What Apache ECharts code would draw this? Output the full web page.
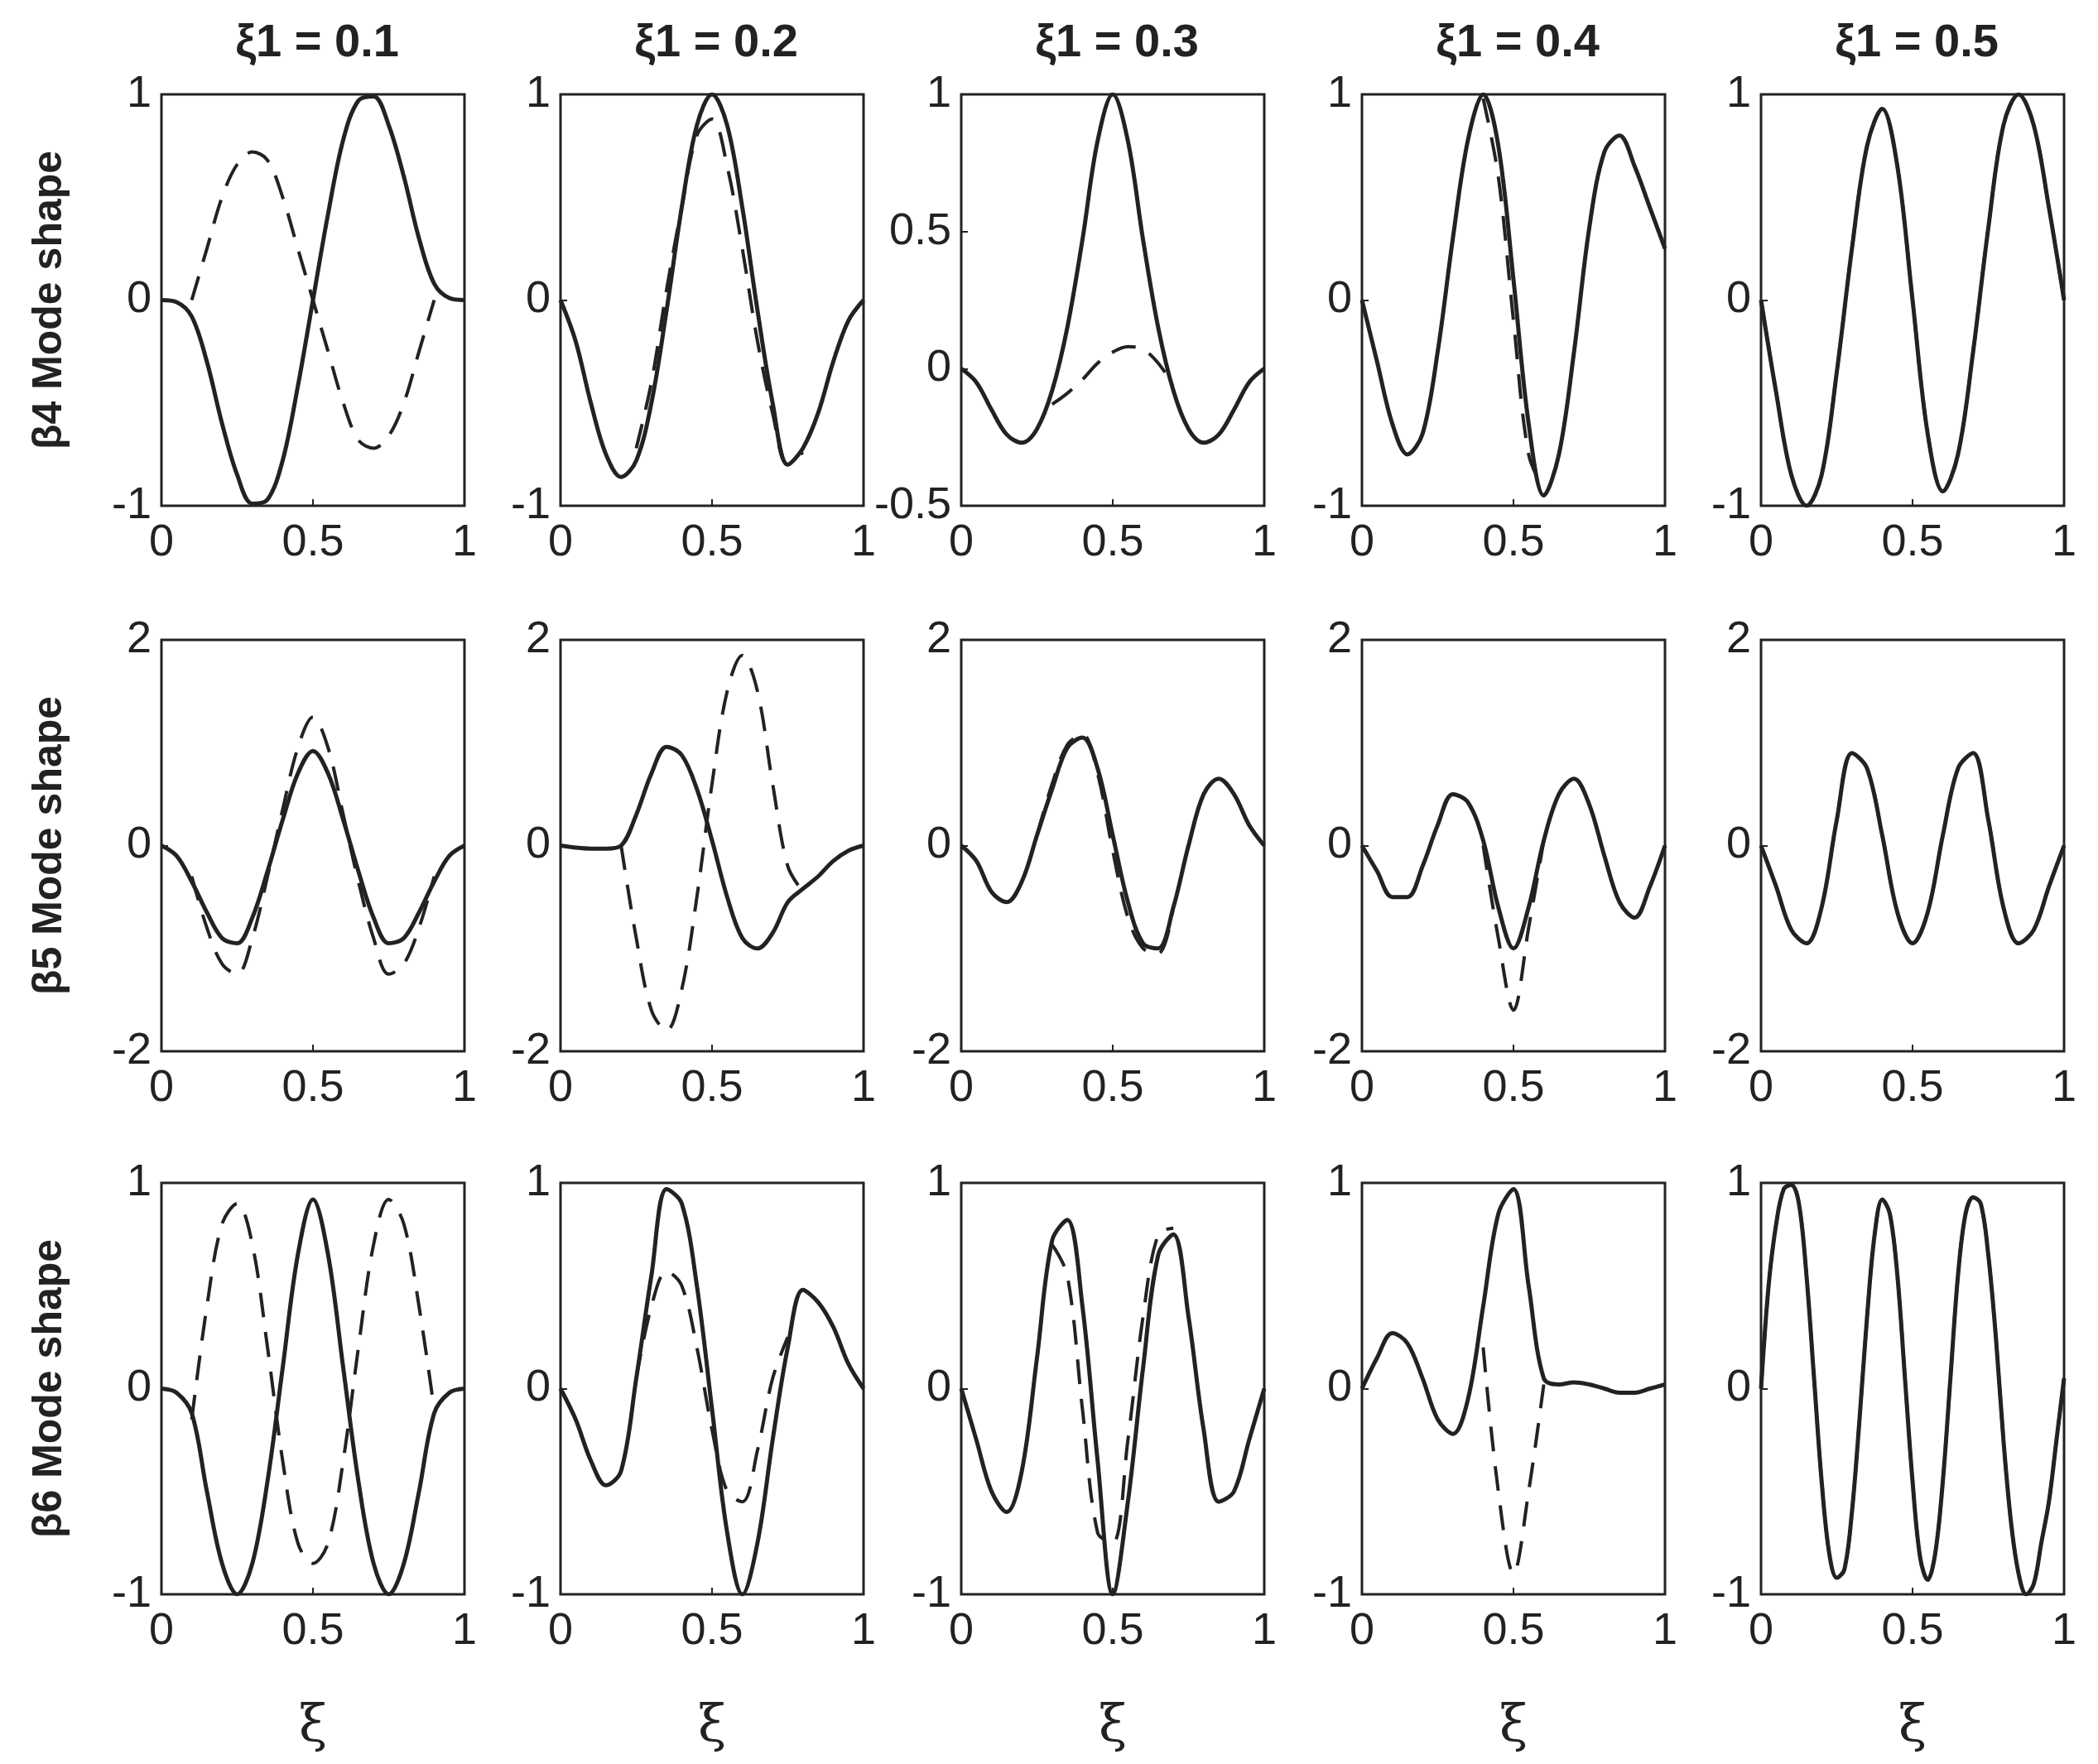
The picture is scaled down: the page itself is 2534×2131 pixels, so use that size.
<!DOCTYPE html>
<html><head><meta charset="utf-8">
<script src="https://cdn.jsdelivr.net/npm/echarts@6/dist/echarts.min.js"></script>
<style>html,body{margin:0;background:#fff}#mybox{width:2534px;height:2131px}</style>
</head><body><div id="mybox"></div>
<script>
// x positions (ξ)
var xs21 = [0,0.05,0.1,0.15,0.2,0.25,0.3,0.35,0.4,0.45,0.5,0.55,0.6,0.65,0.7,0.75,0.8,0.85,0.9,0.95,1];
var xs41 = [0,0.025,0.05,0.075,0.1,0.125,0.15,0.175,0.2,0.225,0.25,0.275,0.3,0.325,0.35,0.375,0.4,0.425,0.45,0.475,0.5,0.525,0.55,0.575,0.6,0.625,0.65,0.675,0.7,0.725,0.75,0.775,0.8,0.825,0.85,0.875,0.9,0.925,0.95,0.975,1];
var _ = null;

var titles = ['ξ1 = 0.1','ξ1 = 0.2','ξ1 = 0.3','ξ1 = 0.4','ξ1 = 0.5'];
var rowLabels = ['β4 Mode shape','β5 Mode shape','β6 Mode shape'];
var yRanges = [[-1,1,1],[-1,1,1],[-0.5,1,0.5],[-1,1,1],[-1,1,1],
               [-2,2,2],[-2,2,2],[-2,2,2],[-2,2,2],[-2,2,2],
               [-1,1,1],[-1,1,1],[-1,1,1],[-1,1,1],[-1,1,1]];

// row 1 (β4)
var s11 = [0,-0.01,-0.08,-0.3,-0.6,-0.85,-0.99,-0.97,-0.78,-0.42,0,0.42,0.78,0.97,0.99,0.85,0.6,0.3,0.08,0.01,0];
var d11 = [_,_,0,0.25,0.5,0.66,0.72,0.68,0.5,0.25,0,-0.25,-0.5,-0.68,-0.72,-0.66,-0.5,-0.25,0,_,_];
var s12 = [0,-0.2,-0.5,-0.75,-0.86,-0.78,-0.5,-0.05,0.45,0.85,1,0.85,0.45,-0.05,-0.5,-0.8,-0.72,-0.55,-0.3,-0.1,0];
var d12 = [_,_,_,_,_,-0.72,-0.4,0.05,0.45,0.8,0.88,0.65,0.25,-0.2,-0.55,-0.8,-0.74,_,_,_,_];
var s13 = [0,-0.05,-0.15,-0.24,-0.27,-0.22,-0.08,0.15,0.47,0.83,1,0.83,0.47,0.15,-0.08,-0.22,-0.27,-0.24,-0.15,-0.05,0];
var d13 = [_,_,_,_,_,_,-0.13,-0.09,-0.04,0.02,0.06,0.08,0.07,0.02,-0.06,_,_,_,_,_,_];
var s14 = [0,-0.3,-0.6,-0.75,-0.65,-0.25,0.3,0.78,1,0.75,0.1,-0.6,-0.95,-0.75,-0.25,0.35,0.72,0.8,0.65,0.45,0.25];
var d14 = [_,_,_,_,_,_,_,_,0.98,0.6,-0.1,-0.75,-0.92,_,_,_,_,_,_,_,_];
var s15 = [0,-0.45,-0.85,-1,-0.85,-0.35,0.25,0.75,0.93,0.65,0,-0.65,-0.93,-0.75,-0.25,0.35,0.85,1,0.85,0.45,0];
var d15 = [0,-0.45,-0.85,-1,-0.85,-0.35,0.25,0.75,0.93,0.65,0,-0.65,-0.93,-0.75,-0.25,0.35,0.85,1,0.85,0.45,0];

// row 2 (β5)
var s21 = [0,-0.1,-0.35,-0.65,-0.9,-0.95,-0.7,-0.25,0.25,0.7,0.92,0.7,0.25,-0.25,-0.7,-0.95,-0.9,-0.65,-0.35,-0.1,0];
var d21 = [_,_,-0.3,-0.8,-1.15,-1.25,-0.9,-0.3,0.35,0.95,1.25,0.95,0.3,-0.35,-0.9,-1.25,-1.15,-0.8,-0.3,_,_];
var s22 = [0,-0.02,-0.03,-0.03,0,0.3,0.7,0.96,0.88,0.55,0.05,-0.5,-0.9,-1,-0.85,-0.55,-0.42,-0.3,-0.15,-0.05,0];
var d22 = [_,_,_,_,0,-0.9,-1.6,-1.8,-1.4,-0.5,0.6,1.5,1.85,1.5,0.6,-0.2,-0.45,_,_,_,_];
var s23 = [0,-0.15,-0.45,-0.55,-0.35,0.1,0.55,0.95,1.05,0.75,0.1,-0.55,-0.95,-1,-0.6,0,0.5,0.65,0.5,0.2,0];
var d23 = [_,_,_,_,_,0.1,0.6,0.98,1.08,0.7,-0.05,-0.7,-1,-1.05,-0.6,_,_,_,_,_,_];
var s24 = [0,-0.25,-0.5,-0.5,-0.2,0.2,0.5,0.42,0.05,-0.6,-1,-0.6,0.05,0.5,0.65,0.4,-0.1,-0.55,-0.7,-0.4,0];
var d24 = [_,_,_,_,_,_,_,_,0,-0.9,-1.6,-0.8,0.05,_,_,_,_,_,_,_,_];
var s25 = [0,-0.4,-0.82,-0.95,-0.6,0.25,0.9,0.75,0.1,-0.65,-0.95,-0.65,0.1,0.75,0.9,0.25,-0.6,-0.95,-0.82,-0.4,0];
var d25 = s25.slice();

// row 3 (β6)
var s31 = [0,-0.02,-0.12,-0.5,-0.85,-1,-0.85,-0.45,0.1,0.65,0.92,0.65,0.1,-0.45,-0.85,-1,-0.85,-0.5,-0.12,-0.02,0];
var d31 = [_,_,-0.15,0.4,0.8,0.9,0.7,0.2,-0.35,-0.75,-0.85,-0.75,-0.35,0.2,0.7,0.92,0.8,0.4,-0.1,_,_];
var s32 = [0,-0.15,-0.35,-0.47,-0.4,0.05,0.55,0.97,0.9,0.5,-0.1,-0.7,-1,-0.75,-0.25,0.2,0.48,0.42,0.3,0.12,0];
var d32 = [_,_,_,_,_,0.05,0.4,0.57,0.5,0.2,-0.2,-0.5,-0.55,-0.3,0.05,0.25,_,_,_,_,_];
var s33 = [0,-0.25,-0.5,-0.6,-0.4,0.15,0.72,0.82,0.4,-0.35,-1,-0.55,0.1,0.65,0.75,0.35,-0.2,-0.55,-0.5,-0.25,0];
var d33 = [_,_,_,_,_,_,0.7,0.55,-0.1,-0.7,-0.75,-0.25,0.35,0.75,0.78,_,_,_,_,_,_];
var s34 = [0,0.15,0.27,0.22,0.05,-0.15,-0.22,-0.05,0.4,0.85,0.97,0.5,0.05,0.02,0.03,0.02,0,-0.02,-0.02,0,0.02];
var d34 = [_,_,_,_,_,_,_,_,0.2,-0.5,-0.9,-0.5,0.02,_,_,_,_,_,_,_,_];
var s35 = [0,0.5,0.8,0.97,0.99,0.9,0.55,0.05,-0.45,-0.8,-0.92,-0.88,-0.6,-0.15,0.35,0.75,0.92,0.85,0.55,0.05,-0.45,-0.82,-0.93,-0.8,-0.45,0.05,0.55,0.85,0.93,0.9,0.65,0.25,-0.25,-0.65,-0.9,-1,-0.95,-0.75,-0.55,-0.25,0.05];
var d35 = s35.slice();

var panels = [
  [xs21,s11,d11],[xs21,s12,d12],[xs21,s13,d13],[xs21,s14,d14],[xs21,s15,d15],
  [xs21,s21,d21],[xs21,s22,d22],[xs21,s23,d23],[xs21,s24,d24],[xs21,s25,d25],
  [xs21,s31,d31],[xs21,s32,d32],[xs21,s33,d33],[xs21,s34,d34],[xs41,s35,d35]
];

var lefts = [195,677,1161,1645,2127];
var tops = [114,773,1429];
var W = 366, H = 497;
var font = 'Liberation Sans, Arial, sans-serif';

function pairs(xs, ys){ return xs.map(function(x,i){ return [x, ys[i]]; }); }

var grids=[], xAxes=[], yAxes=[], series=[], titleArr=[];
for (var k=0;k<15;k++){
  var r=Math.floor(k/5), c=k%5, yr=yRanges[k];
  grids.push({left:lefts[c], top:tops[r], width:W, height:H, show:true, borderColor:'#222', borderWidth:3, backgroundColor:'#fff'});
  xAxes.push({type:'value', gridIndex:k, min:0, max:1, interval:0.5,
    axisLine:{show:false, onZero:false}, splitLine:{show:false},
    axisTick:{inside:true, length:8, lineStyle:{color:'#222',width:2}},
    axisLabel:{color:'#222', fontSize:54, fontFamily:font, margin:18, formatter:function(v){return String(v);}},
    name: r==2 ? 'ξ' : '', nameLocation:'middle', nameGap:130,
    nameTextStyle:{fontSize:62, color:'#222', fontFamily:'DejaVu Serif, serif'}});
  yAxes.push({type:'value', gridIndex:k, min:yr[0], max:yr[1], interval:yr[2],
    axisLine:{show:false, onZero:false}, splitLine:{show:false},
    axisTick:{inside:true, length:8, lineStyle:{color:'#222',width:2}},
    axisLabel:{color:'#222', fontSize:54, fontFamily:font, margin:12, formatter:function(v){return String(v);}},
    name: c==0 ? rowLabels[r] : '', nameLocation:'middle', nameGap:110, nameRotate:90,
    nameTextStyle:{fontSize:50, fontWeight:'bold', color:'#222', fontFamily:font}});
  var p=panels[k];
  series.push({type:'line', xAxisIndex:k, yAxisIndex:k, data:pairs(p[0],p[2]), smooth:0.35, showSymbol:false, connectNulls:false,
    lineStyle:{color:'#222', width:4, type:[30,18]}, z:2});
  series.push({type:'line', xAxisIndex:k, yAxisIndex:k, data:pairs(p[0],p[1]), smooth:0.35, showSymbol:false,
    lineStyle:{color:'#222', width:5}, z:3});
}
for (var c=0;c<5;c++){
  titleArr.push({text:titles[c], left:lefts[c]+W/2, top:20, textAlign:'center',
    textStyle:{fontSize:56, fontWeight:'bold', color:'#222', fontFamily:font}});
}

var mycharts = echarts.init(document.getElementById('mybox'));
mycharts.setOption({
  animation:false,
  backgroundColor:'#fff',
  title:titleArr,
  grid:grids, xAxis:xAxes, yAxis:yAxes, series:series
});
</script>
</body></html>
